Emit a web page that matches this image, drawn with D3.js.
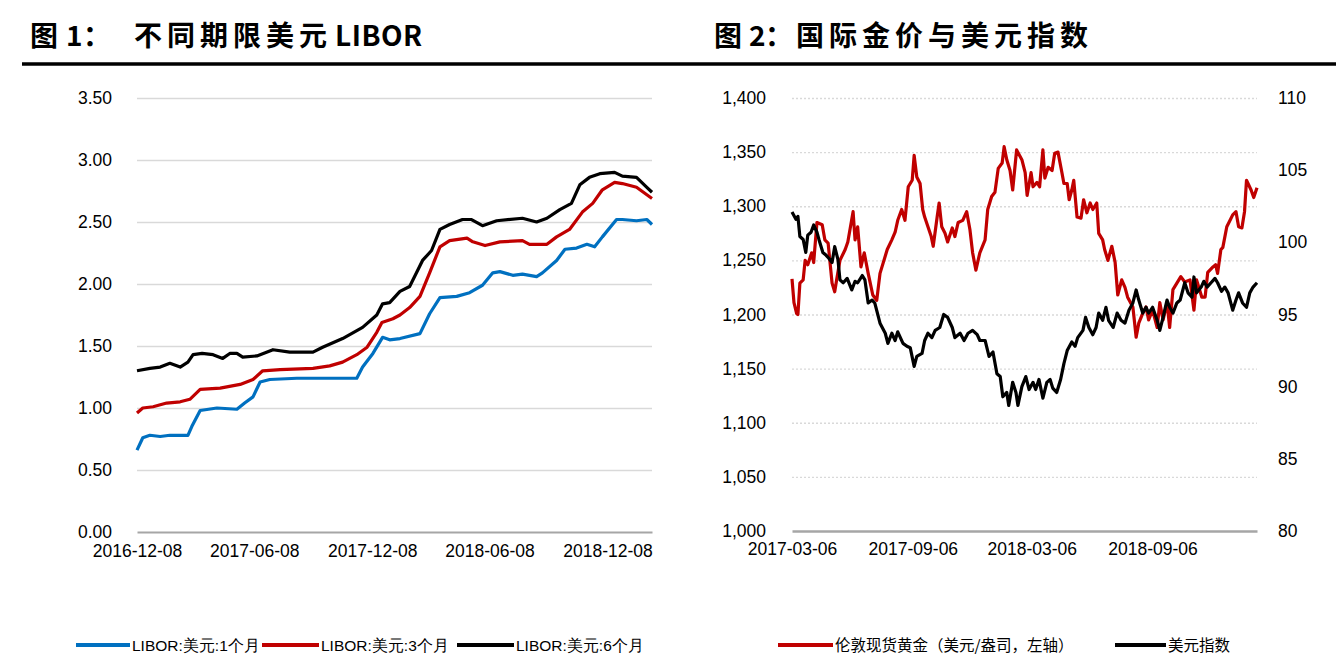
<!DOCTYPE html>
<html><head><meta charset="utf-8">
<script src="https://cdn.jsdelivr.net/npm/d3@7"></script>
<style>
html,body{margin:0;padding:0;background:#fff;}
svg{display:block;}
</style></head>
<body>
<svg id="c" width="1343" height="658"></svg>
<script>
// ---------- Data: Figure 1 (USD LIBOR, %) ----------
const libor1m = [["2016-12-08",0.66],["2016-12-17",0.76],["2016-12-28",0.78],["2017-01-13",0.77],["2017-01-28",0.78],["2017-02-25",0.78],["2017-03-03",0.85],["2017-03-16",0.98],["2017-04-11",1.00],["2017-05-12",0.99],["2017-05-24",1.04],["2017-06-06",1.09],["2017-06-17",1.21],["2017-07-02",1.23],["2017-08-13",1.24],["2017-10-03",1.24],["2017-11-14",1.24],["2017-11-23",1.33],["2017-12-09",1.44],["2017-12-24",1.57],["2018-01-04",1.55],["2018-01-20",1.56],["2018-02-20",1.60],["2018-03-07",1.76],["2018-03-23",1.89],["2018-04-18",1.90],["2018-05-08",1.93],["2018-05-28",1.99],["2018-06-13",2.09],["2018-06-24",2.10],["2018-07-14",2.07],["2018-07-29",2.08],["2018-08-20",2.06],["2018-08-29",2.09],["2018-09-20",2.19],["2018-10-03",2.28],["2018-10-21",2.29],["2018-11-06",2.32],["2018-11-18",2.30],["2018-11-30",2.38],["2018-12-22",2.52],["2018-12-31",2.52],["2019-01-22",2.51],["2019-02-07",2.52],["2019-02-15",2.48]];
const libor3m = [["2016-12-08",0.96],["2016-12-17",1.00],["2017-01-02",1.01],["2017-01-23",1.04],["2017-02-13",1.05],["2017-02-28",1.07],["2017-03-16",1.15],["2017-04-16",1.16],["2017-05-17",1.19],["2017-06-06",1.23],["2017-06-21",1.30],["2017-07-18",1.31],["2017-09-07",1.32],["2017-10-03",1.34],["2017-10-23",1.37],["2017-11-14",1.43],["2017-11-30",1.49],["2017-12-15",1.61],["2017-12-23",1.69],["2018-01-09",1.72],["2018-01-20",1.75],["2018-02-04",1.81],["2018-02-20",1.90],["2018-03-07",2.09],["2018-03-23",2.30],["2018-04-07",2.35],["2018-05-04",2.37],["2018-05-13",2.34],["2018-06-01",2.31],["2018-06-24",2.34],["2018-07-29",2.35],["2018-08-09",2.32],["2018-09-05",2.32],["2018-09-20",2.38],["2018-10-10",2.44],["2018-10-30",2.58],["2018-11-15",2.65],["2018-11-30",2.76],["2018-12-19",2.82],["2018-12-31",2.81],["2019-01-22",2.78],["2019-02-07",2.72],["2019-02-15",2.69]];
const libor6m = [["2016-12-08",1.30],["2016-12-28",1.32],["2017-01-13",1.33],["2017-01-28",1.36],["2017-02-13",1.33],["2017-02-25",1.37],["2017-03-05",1.43],["2017-03-19",1.44],["2017-04-05",1.43],["2017-04-20",1.40],["2017-05-01",1.44],["2017-05-12",1.44],["2017-05-21",1.41],["2017-06-12",1.42],["2017-07-07",1.47],["2017-08-02",1.45],["2017-09-07",1.45],["2017-09-22",1.49],["2017-10-23",1.56],["2017-11-23",1.65],["2017-12-15",1.75],["2017-12-24",1.84],["2018-01-04",1.85],["2018-01-20",1.94],["2018-02-04",1.98],["2018-02-24",2.19],["2018-03-10",2.27],["2018-03-23",2.44],["2018-04-07",2.48],["2018-04-27",2.52],["2018-05-11",2.52],["2018-05-28",2.47],["2018-06-19",2.51],["2018-07-29",2.53],["2018-08-20",2.50],["2018-09-05",2.53],["2018-09-25",2.60],["2018-10-13",2.65],["2018-10-26",2.80],["2018-11-10",2.86],["2018-11-26",2.89],["2018-12-19",2.90],["2018-12-31",2.87],["2019-01-22",2.86],["2019-02-07",2.78],["2019-02-15",2.74]];
const liborYTicks = [0,0.5,1,1.5,2,2.5,3,3.5];
const liborXTicks = ["2016-12-08","2017-06-08","2017-12-08","2018-06-08","2018-12-08"];
const liborXDomain = ["2016-12-08","2019-02-15"];
const liborNames = ["LIBOR:美元:1个月","LIBOR:美元:3个月","LIBOR:美元:6个月"];

// ---------- Data: Figure 2 (gold, USD index) ----------
const gold = [["2017-03-06",1233],["2017-03-09",1211],["2017-03-13",1201],["2017-03-15",1200],["2017-03-18",1229],["2017-03-23",1232],["2017-03-26",1250],["2017-03-30",1246],["2017-04-05",1257],["2017-04-08",1248],["2017-04-13",1285],["2017-04-21",1283],["2017-04-25",1269],["2017-04-30",1266],["2017-05-06",1229],["2017-05-10",1221],["2017-05-13",1232],["2017-05-18",1250],["2017-05-26",1260],["2017-05-30",1267],["2017-06-07",1295],["2017-06-10",1269],["2017-06-14",1281],["2017-06-19",1244],["2017-06-24",1257],["2017-06-30",1238],["2017-07-07",1218],["2017-07-13",1213],["2017-07-18",1238],["2017-07-29",1260],["2017-08-05",1269],["2017-08-10",1276],["2017-08-14",1287],["2017-08-20",1297],["2017-08-25",1287],["2017-08-30",1318],["2017-09-05",1324],["2017-09-08",1347],["2017-09-12",1327],["2017-09-17",1321],["2017-09-21",1297],["2017-09-24",1290],["2017-09-29",1281],["2017-10-04",1272],["2017-10-07",1263],["2017-10-13",1290],["2017-10-16",1303],["2017-10-20",1281],["2017-10-25",1275],["2017-10-29",1267],["2017-11-05",1280],["2017-11-09",1272],["2017-11-14",1285],["2017-11-21",1287],["2017-11-27",1295],["2017-12-02",1278],["2017-12-06",1257],["2017-12-11",1241],["2017-12-17",1257],["2017-12-25",1269],["2017-12-29",1297],["2018-01-04",1309],["2018-01-09",1313],["2018-01-14",1335],["2018-01-20",1340],["2018-01-23",1355],["2018-01-27",1343],["2018-02-01",1333],["2018-02-05",1315],["2018-02-11",1352],["2018-02-19",1343],["2018-02-24",1331],["2018-02-27",1310],["2018-03-05",1331],["2018-03-08",1318],["2018-03-14",1322],["2018-03-18",1318],["2018-03-23",1352],["2018-03-26",1326],["2018-03-31",1336],["2018-04-06",1333],["2018-04-10",1349],["2018-04-15",1350],["2018-04-21",1331],["2018-04-24",1321],["2018-04-29",1321],["2018-05-02",1306],["2018-05-06",1315],["2018-05-09",1324],["2018-05-14",1290],["2018-05-20",1289],["2018-05-24",1306],["2018-05-29",1294],["2018-06-03",1303],["2018-06-07",1297],["2018-06-13",1303],["2018-06-16",1275],["2018-06-22",1269],["2018-06-25",1260],["2018-06-30",1250],["2018-07-06",1263],["2018-07-11",1248],["2018-07-15",1218],["2018-07-21",1232],["2018-07-26",1225],["2018-07-30",1216],["2018-08-07",1207],["2018-08-12",1179],["2018-08-16",1192],["2018-08-22",1201],["2018-08-27",1207],["2018-08-31",1195],["2018-09-06",1204],["2018-09-13",1188],["2018-09-17",1211],["2018-09-22",1195],["2018-09-28",1211],["2018-10-02",1188],["2018-10-07",1223],["2018-10-13",1229],["2018-10-19",1235],["2018-10-25",1230],["2018-11-02",1232],["2018-11-08",1204],["2018-11-12",1232],["2018-11-20",1216],["2018-11-25",1216],["2018-11-29",1239],["2018-12-07",1244],["2018-12-11",1246],["2018-12-14",1238],["2018-12-19",1260],["2018-12-22",1262],["2018-12-28",1281],["2019-01-02",1287],["2019-01-06",1292],["2019-01-11",1295],["2019-01-15",1281],["2019-01-20",1280],["2019-01-24",1295],["2019-01-27",1324],["2019-02-03",1315],["2019-02-07",1308],["2019-02-12",1317]];
const dxy = [["2017-03-06",102.1],["2017-03-12",101.6],["2017-03-15",101.8],["2017-03-18",100.4],["2017-03-23",100.2],["2017-03-27",99.3],["2017-03-30",100.5],["2017-04-04",100.7],["2017-04-08",101.2],["2017-04-13",100.7],["2017-04-16",100.2],["2017-04-22",99.3],["2017-04-27",99.1],["2017-05-01",98.9],["2017-05-06",98.6],["2017-05-10",99.7],["2017-05-15",98.8],["2017-05-18",97.4],["2017-05-23",97.2],["2017-05-29",97.5],["2017-06-05",96.7],["2017-06-10",97.3],["2017-06-14",97.2],["2017-06-21",97.7],["2017-06-25",97.4],["2017-06-30",95.8],["2017-07-06",96.0],["2017-07-10",95.8],["2017-07-18",94.4],["2017-07-26",93.7],["2017-07-30",93.0],["2017-08-05",93.7],["2017-08-10",93.2],["2017-08-14",93.8],["2017-08-22",93.0],["2017-08-28",92.8],["2017-09-02",92.7],["2017-09-08",91.4],["2017-09-12",92.1],["2017-09-20",92.3],["2017-09-24",93.2],["2017-09-29",93.7],["2017-10-05",93.4],["2017-10-10",93.9],["2017-10-17",94.1],["2017-10-23",95.0],["2017-10-29",94.8],["2017-11-05",94.1],["2017-11-09",93.4],["2017-11-17",93.7],["2017-11-23",93.2],["2017-11-29",93.7],["2017-12-06",93.9],["2017-12-13",93.6],["2017-12-17",93.2],["2017-12-25",93.2],["2017-12-31",92.1],["2018-01-06",92.4],["2018-01-12",90.9],["2018-01-17",90.7],["2018-01-21",89.3],["2018-01-27",89.6],["2018-01-30",88.7],["2018-02-05",90.3],["2018-02-10",89.6],["2018-02-13",88.7],["2018-02-19",90.0],["2018-02-25",90.7],["2018-03-02",89.8],["2018-03-08",90.3],["2018-03-12",89.8],["2018-03-17",90.5],["2018-03-23",89.2],["2018-03-29",90.3],["2018-04-03",90.5],["2018-04-07",89.9],["2018-04-13",89.6],["2018-04-19",90.5],["2018-04-24",91.6],["2018-04-29",92.5],["2018-05-06",93.1],["2018-05-11",92.8],["2018-05-15",93.4],["2018-05-23",93.9],["2018-05-27",94.8],["2018-06-01",94.1],["2018-06-07",93.6],["2018-06-12",94.1],["2018-06-16",95.1],["2018-06-22",94.6],["2018-06-27",95.5],["2018-07-01",94.6],["2018-07-08",94.1],["2018-07-14",95.1],["2018-07-20",94.6],["2018-07-26",94.4],["2018-08-01",95.3],["2018-08-07",95.8],["2018-08-12",96.7],["2018-08-16",96.0],["2018-08-22",95.1],["2018-08-27",95.5],["2018-08-31",95.1],["2018-09-06",95.5],["2018-09-13",94.6],["2018-09-17",93.9],["2018-09-22",94.8],["2018-09-28",96.0],["2018-10-02",95.5],["2018-10-07",95.1],["2018-10-13",95.8],["2018-10-18",96.0],["2018-10-25",97.2],["2018-10-30",96.5],["2018-11-05",96.2],["2018-11-08",97.6],["2018-11-12",96.5],["2018-11-19",96.9],["2018-11-23",97.3],["2018-11-28",96.9],["2018-12-04",97.2],["2018-12-10",97.5],["2018-12-14",97.2],["2018-12-20",96.6],["2018-12-25",96.9],["2018-12-30",96.5],["2019-01-06",95.3],["2019-01-11",96.0],["2019-01-15",96.5],["2019-01-21",95.8],["2019-01-27",95.5],["2019-02-01",96.5],["2019-02-06",96.9],["2019-02-12",97.2]];
const goldYTicks = [1000,1050,1100,1150,1200,1250,1300,1350,1400];
const dxyYTicks = [80,85,90,95,100,105,110];
const fig2XTicks = ["2017-03-06","2017-09-06","2018-03-06","2018-09-06"];
const fig2XDomain = ["2017-03-06","2019-02-12"];
const fig2Names = ["伦敦现货黄金（美元/盎司，左轴）","美元指数"];

// ---------- Drawing ----------
const parse = d3.timeParse("%Y-%m-%d");
const fmtDate = d3.timeFormat("%Y-%m-%d");
const svg = d3.select("#c");
const TICK_FONT = "'Liberation Sans', Arial, sans-serif";
const CJK = "'Noto Sans CJK SC', sans-serif";
const BLUE = "#0070C0", RED = "#C00000", BLACK = "#000000";

// Titles and rule
function title(parts) {
  parts.forEach(p => {
    svg.append("text").attr("x", p.x).attr("y", 46)
      .attr("font-family", CJK).attr("font-weight", 700)
      .attr("font-size", p.size || 28).attr("letter-spacing", p.ls)
      .attr("fill", "#000").text(p.t);
  });
}
title([{x:30,t:"图",ls:0},{x:66,t:"1",ls:0},{x:83,t:"：",ls:0},{x:134,t:"不同期限美元",ls:5},{x:335,t:"LIBOR",ls:0.5}]);
title([{x:714,t:"图",ls:0},{x:749,t:"2",ls:0},{x:765,t:"：",ls:0},{x:796,t:"国际金价与美元指数",ls:5}]);
svg.append("line").attr("x1",22).attr("x2",1336).attr("y1",64).attr("y2",64)
  .attr("stroke","#000").attr("stroke-width",3.5);

function styleTicks(g, anchor) {
  g.selectAll("text").attr("font-family", TICK_FONT).attr("font-size", 17.5).attr("fill", "#000");
  if (anchor) g.selectAll("text").attr("text-anchor", anchor);
}

// ---------- Figure 1 ----------
{
  const L = 137, R = 652, T = 98, B = 532;
  const x = d3.scaleTime().domain(liborXDomain.map(parse)).range([L, R]);
  const y = d3.scaleLinear().domain([0, 3.5]).range([B, T]);
  svg.append("g").attr("transform", `translate(${L},0)`)
    .call(d3.axisLeft(y).tickValues(liborYTicks.slice(1)).tickSize(-(R - L)).tickFormat(""))
    .call(g => g.select(".domain").remove())
    .call(g => g.selectAll("line").attr("stroke", "#d9d9d9").attr("stroke-width", 1.3));
  const ya = svg.append("g").attr("transform", `translate(${L},0)`)
    .call(d3.axisLeft(y).tickValues(liborYTicks).tickSize(0).tickPadding(25).tickFormat(d3.format(".2f")));
  ya.select(".domain").remove();
  styleTicks(ya);
  const xa = svg.append("g").attr("transform", `translate(0,${B})`)
    .call(d3.axisBottom(x).tickValues(liborXTicks.map(parse)).tickSize(0).tickPadding(13).tickFormat(fmtDate));
  xa.select(".domain").attr("stroke", "#a6a6a6").attr("stroke-width", 2);
  styleTicks(xa);
  const line = d3.line().x(d => x(parse(d[0]))).y(d => y(d[1]));
  [[libor1m, BLUE], [libor3m, RED], [libor6m, BLACK]].forEach(([data, c]) => {
    svg.append("path").datum(data).attr("d", line).attr("fill", "none")
      .attr("stroke", c).attr("stroke-width", 3.2).attr("stroke-linejoin", "round");
  });
  const lg = [[76, 130, BLUE], [262, 319, RED], [457, 514, BLACK]];
  lg.forEach(([x1, x2, c], i) => {
    svg.append("line").attr("x1", x1).attr("x2", x2).attr("y1", 645).attr("y2", 645)
      .attr("stroke", c).attr("stroke-width", 4);
    svg.append("text").attr("x", x2 + 2).attr("y", 651)
      .attr("font-family", TICK_FONT).attr("font-size", 15.5).attr("fill", "#000")
      .text(liborNames[i]);
  });
}

// ---------- Figure 2 ----------
{
  const L = 792, R = 1257, T = 98, B = 531;
  const x = d3.scaleTime().domain(fig2XDomain.map(parse)).range([L, R]);
  const yL = d3.scaleLinear().domain([1000, 1400]).range([B, T]);
  const yR = d3.scaleLinear().domain([80, 110]).range([B, T]);
  svg.append("g").attr("transform", `translate(${L},0)`)
    .call(d3.axisLeft(yL).tickValues(goldYTicks.slice(1)).tickSize(-(R - L)).tickFormat(""))
    .call(g => g.select(".domain").remove())
    .call(g => g.selectAll("line").attr("stroke", "#d9d9d9").attr("stroke-width", 1.3).attr("stroke-dasharray", "2,2"));
  const ya = svg.append("g").attr("transform", `translate(${L},0)`)
    .call(d3.axisLeft(yL).tickValues(goldYTicks).tickSize(0).tickPadding(26).tickFormat(d3.format(",")));
  ya.select(".domain").remove();
  styleTicks(ya);
  const yb = svg.append("g").attr("transform", `translate(${R},0)`)
    .call(d3.axisRight(yR).tickValues(dxyYTicks).tickSize(0).tickPadding(21).tickFormat(d3.format("d")));
  yb.select(".domain").remove();
  styleTicks(yb);
  const xa = svg.append("g").attr("transform", `translate(0,${B})`)
    .call(d3.axisBottom(x).tickValues(fig2XTicks.map(parse)).tickSize(0).tickPadding(12).tickFormat(fmtDate));
  xa.select(".domain").attr("stroke", "#a6a6a6").attr("stroke-width", 2.5);
  styleTicks(xa);
  const lineG = d3.line().x(d => x(parse(d[0]))).y(d => yL(d[1]));
  const lineD = d3.line().x(d => x(parse(d[0]))).y(d => yR(d[1]));
  svg.append("path").datum(gold).attr("d", lineG).attr("fill", "none")
    .attr("stroke", RED).attr("stroke-width", 3.2).attr("stroke-linejoin", "round");
  svg.append("path").datum(dxy).attr("d", lineD).attr("fill", "none")
    .attr("stroke", BLACK).attr("stroke-width", 3.2).attr("stroke-linejoin", "round");
  const lg = [[778, 833, RED], [1115, 1166, BLACK]];
  lg.forEach(([x1, x2, c], i) => {
    svg.append("line").attr("x1", x1).attr("x2", x2).attr("y1", 645).attr("y2", 645)
      .attr("stroke", c).attr("stroke-width", 4);
    svg.append("text").attr("x", x2 + 2).attr("y", 651)
      .attr("font-family", CJK).attr("font-size", 15.5).attr("fill", "#000")
      .text(fig2Names[i]);
  });
}
</script>
</body></html>
